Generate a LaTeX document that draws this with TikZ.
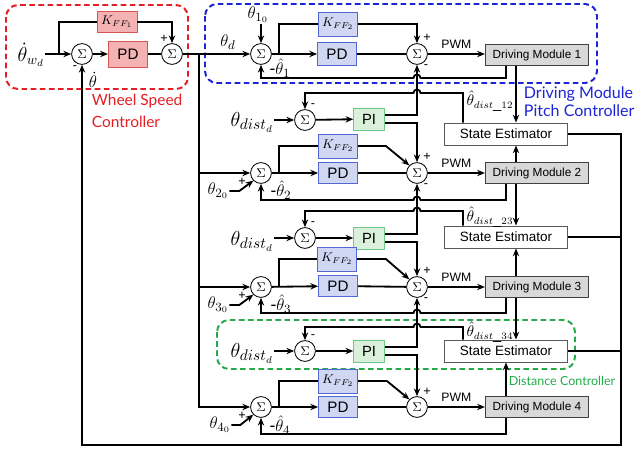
\documentclass[tikz,border=0pt]{standalone}
\usepackage{fontspec}
\setmainfont{Liberation Sans}
\newfontfamily\capfont{Lato}
\usetikzlibrary{arrows.meta,calc}

\definecolor{wsred}{RGB}{228,30,36}
\definecolor{pcblue}{RGB}{28,36,214}
\definecolor{dcgreen}{RGB}{36,170,72}
\definecolor{redfill}{RGB}{244,178,178}
\definecolor{redline}{RGB}{214,86,86}
\definecolor{bluefill}{RGB}{207,215,242}
\definecolor{blueline}{RGB}{84,104,212}
\definecolor{greenfill}{RGB}{218,240,218}
\definecolor{greenline}{RGB}{112,200,136}
\definecolor{drvfill}{RGB}{216,216,216}

\tikzset{
  sum/.style={draw, circle, line width=0.6pt, fill=white, inner sep=0pt,
    minimum size=0.52cm, font=\fontsize{9}{10}\selectfont},
  ffw/.style={draw=redline, fill=redfill, line width=0.7pt, inner sep=0pt,
    font=\fontsize{10.8}{12}\selectfont},
  ctrl/.style={draw=blueline, fill=bluefill, line width=0.7pt, inner sep=0pt,
    minimum width=0.97cm, font=\fontsize{10.8}{12}\selectfont},
  pibox/.style={draw=greenline, fill=greenfill, line width=0.7pt, inner sep=0pt,
    minimum width=0.76cm, minimum height=0.55cm, font=\fontsize{10.5}{12}\selectfont},
  drv/.style={draw=black!75, fill=drvfill, line width=0.7pt, inner sep=0pt,
    minimum width=2.58cm, minimum height=0.52cm, font=\fontsize{8.4}{10}\selectfont},
  est/.style={draw=black!65, fill=white, line width=0.7pt, inner sep=0pt,
    minimum width=3.05cm, minimum height=0.55cm, font=\fontsize{9.6}{11}\selectfont},
  sig/.style={inner sep=0pt, font=\fontsize{12.5}{14}\selectfont},
  big/.style={inner sep=0pt, font=\fontsize{15}{18}\selectfont},
  sgn/.style={inner sep=0pt, font=\fontsize{9}{10}\selectfont},
  zone/.style={dash pattern=on 4pt off 2.5pt, line width=1.4pt, rounded corners=0.3cm},
}

\begin{document}
\begin{tikzpicture}[x=0.025cm, y=-0.025cm, line width=1.3pt,
  >={Stealth[length=5.5pt,width=4.5pt]}]
  \useasboundingbox (0,0) rectangle (641,453);

  % controller zones
  \draw[zone, wsred] (6,5) rectangle (188,89);
  \draw[zone, pcblue] (205,4) rectangle (597,83);
  \draw[zone, dcgreen] (217,320) rectangle (575,369);
  \node[anchor=north west, align=left, text=wsred, inner sep=0pt,
    font=\capfont\fontsize{11}{15.6}\selectfont] (wsc) at (91,93) {Wheel Speed\\Controller};
  \node[anchor=north west, align=left, text=pcblue, inner sep=0pt,
    font=\capfont\fontsize{11.4}{12.8}\selectfont] (pcc) at (523,86) {Driving Module\\Pitch Controller};
  \node[text=dcgreen, inner sep=0pt, font=\capfont\fontsize{8.9}{10}\selectfont] (dcc) at (562,381) {Distance Controller};

  % wheel speed loop
  \node[sig, font=\fontsize{14}{16}\selectfont] (wd) at (31,55) {$\dot{\theta}_{w_d}$};
  \node[sum] (s1) at (82,54) {$\Sigma$};
  \node[ffw, minimum width=1cm, minimum height=0.52cm, font=\fontsize{9}{10}\selectfont] (kff1) at (117,22) {$K_{FF_1}$};
  \node[ffw, minimum width=0.98cm, minimum height=0.65cm] (pdw) at (128,54) {PD};
  \node[sum] (s2) at (172,54) {$\Sigma$};
  \coordinate (wb) at (59,54);
  \coordinate (vl) at (199,54);
  \draw[->] (wd.east |- s1.west) -- (s1);
  \draw (wb) |- (kff1);
  \draw[->] (kff1) -| (s2);
  \draw[->] (s1) -- (pdw);
  \draw (pdw) -- (s2);
  \node[sgn] (p0) at (164,39) {+};
  \node[sgn] (m0) at (75,68) {-};
  \node[sig] (wfb) at (93,80) {$\dot{\theta}$};

  % driving module 1
  \node[sig] (td) at (228,42) {$\theta_d$};
  \node[sum] (s3) at (261,54) {$\Sigma$};
  \node[sig] (t10) at (258,15) {$\theta_{1_0}$};
  \node[ctrl, minimum height=0.6cm, font=\fontsize{9}{10}\selectfont] (k1) at (338,24) {$K_{FF_2}$};
  \node[ctrl, minimum height=0.57cm] (pd1) at (337,54) {PD};
  \node[sum] (s4) at (417,54) {$\Sigma$};
  \node[drv] (dm1) at (537,55) {Driving Module 1};
  \coordinate (b1) at (279,54);
  \draw[->] (s2) -- (s3);
  \draw[->] (s3 |- t10.south) -- (s3);
  \draw (b1) |- (k1);
  \draw[->] (k1) -| (s4);
  \draw[->] (s3) -- (pd1);
  \draw (pd1) -- (s4);
  \draw[->] (s4) -- (s4 -| dm1.west) node[midway, above, font=\fontsize{8.7}{10}\selectfont] {PWM};
  \draw[->] ($(dm1.south)+(-31,0)$) |- (420.5,78) arc (0:180:2.5pt) -| (s3.south);
  \node[sgn] (p1) at (427,38) {+};
  \node[sgn] (m1) at (426,67) {-};
  \node[sig] (f1) at (280,68) {-$\hat{\theta}_1$};

  % distance loop 1-2
  \node[big] (dd1) at (252,122) {$\theta_{dist_d}$};
  \node[sum] (sp1) at (305,120) {$\Sigma$};
  \node[pibox] (pi1) at (369,119) {PI};
  \node[est] (se1) at (506,134) {State Estimator};
  \draw[->] (dd1.east |- sp1.west) -- (sp1);
  \draw[->] (sp1) -- (pi1);
  \draw[->] ($(pi1.east)+(0,-4)$) -| (s4.south);
  \draw[->] ($(se1.north)+(-43,0)$) |- (420.5,93) arc (0:180:2.5pt) -| (sp1.north);
  \draw[->] ($(dm1.south)+(-21,0)$) -- ($(se1.north)+(10,0)$);
  \node[sgn] (mp1) at (313,106) {-};
  \node[sig, font=\fontsize{10.5}{12}\selectfont] (h12) at (490,101) {$\hat{\theta}_{dist\_12}$};

  % driving module 2
  \node[sum] (s6) at (261,173) {$\Sigma$};
  \node[sig] (t20) at (218,191) {$\theta_{2_0}$};
  \node[ctrl, minimum height=0.6cm, font=\fontsize{9}{10}\selectfont] (k2) at (338,146) {$K_{FF_2}$};
  \node[ctrl, minimum height=0.53cm] (pd2) at (338,173) {PD};
  \node[sum] (s7) at (417,173) {$\Sigma$};
  \node[drv] (dm2) at (537,173) {Driving Module 2};
  \coordinate (b2) at (279,173);
  \draw[->] (vl) |- (s6);
  \draw[->] (t20.east) -- ++(10,0) -- (s6.south west);
  \draw (b2) |- (k2);
  \draw[->] (k2.east) -- ++(28,0) -- (s7.north west);
  \draw[->] (s6) -- (pd2);
  \draw (pd2) -- (s7);
  \draw[->] (s7) -- (s7 -| dm2.west) node[midway, above, font=\fontsize{8.7}{10}\selectfont] {PWM};
  \draw[->] ($(dm2.south)+(-31,0)$) |- (420.5,200) arc (0:180:2.5pt) -| (s6.south);
  \draw[->] ($(dm2.north)+(-21,0)$) -- ($(se1.south)+(10,0)$);
  \draw[->] ($(pi1.east)+(0,4)$) -| (s7.north);
  \node[sgn] (pt2) at (242,182) {+};
  \node[sgn] (p2) at (427,157) {+};
  \node[sgn] (m2) at (426,186) {-};
  \node[sig] (f2) at (281,190) {-$\hat{\theta}_2$};

  % distance loop 2-3
  \node[big] (dd2) at (252,241) {$\theta_{dist_d}$};
  \node[sum] (sp2) at (305,238) {$\Sigma$};
  \node[pibox] (pi2) at (369,238) {PI};
  \node[est] (se2) at (506,237) {State Estimator};
  \draw[->] (dd2.east |- sp2.west) -- (sp2);
  \draw[->] (sp2) -- (pi2);
  \draw[->] ($(pi2.east)+(0,-4)$) -| (s7.south);
  \draw[->] ($(se2.north)+(-43,0)$) |- (420.5,211) arc (0:180:2.5pt) -| (sp2.north);
  \draw[->] ($(dm2.south)+(-21,0)$) -- ($(se2.north)+(10,0)$);
  \node[sgn] (mp2) at (313,224) {-};
  \node[sig, font=\fontsize{10.5}{12}\selectfont] (h23) at (490,217) {$\hat{\theta}_{dist\_23}$};

  % driving module 3
  \node[sum] (s8) at (261,287) {$\Sigma$};
  \node[sig] (t30) at (218,305) {$\theta_{3_0}$};
  \node[ctrl, minimum height=0.6cm, font=\fontsize{9}{10}\selectfont] (k3) at (337,259) {$K_{FF_2}$};
  \node[ctrl, minimum height=0.53cm] (pd3) at (338,286) {PD};
  \node[sum] (s9) at (417,287) {$\Sigma$};
  \node[drv] (dm3) at (537,287) {Driving Module 3};
  \coordinate (b3) at (279,287);
  \draw[->] (vl) |- (s8);
  \draw[->] (t30.east) -- ++(10,0) -- (s8.south west);
  \draw (b3) |- (k3);
  \draw[->] (k3.east) -- ++(29,0) -- (s9.north west);
  \draw[->] (s8) -- (pd3);
  \draw (pd3) -- (s9);
  \draw[->] (s9) -- (s9 -| dm3.west) node[midway, above, font=\fontsize{8.7}{10}\selectfont] {PWM};
  \draw[->] ($(dm3.south)+(-31,0)$) |- (420.5,313) arc (0:180:2.5pt) -| (s8.south);
  \draw[->] ($(dm3.north)+(-21,0)$) -- ($(se2.south)+(10,0)$);
  \draw[->] ($(pi2.east)+(0,4)$) -| (s9.north);
  \node[sgn] (pt3) at (242,296) {+};
  \node[sgn] (p3) at (427,271) {+};
  \node[sgn] (m3) at (426,300) {-};
  \node[sig] (f3) at (281,304) {-$\hat{\theta}_3$};

  % distance loop 3-4
  \node[big] (dd3) at (252,353) {$\theta_{dist_d}$};
  \node[sum] (sp3) at (305,351) {$\Sigma$};
  \node[pibox] (pi3) at (369,351) {PI};
  \node[est] (se3) at (506,351) {State Estimator};
  \draw[->] (dd3.east |- sp3.west) -- (sp3);
  \draw[->] (sp3) -- (pi3);
  \draw[->] ($(pi3.east)+(0,-4)$) -| (s9.south);
  \draw[->] ($(se3.north)+(-43,0)$) |- (420.5,327) arc (0:180:2.5pt) -| (sp3.north);
  \draw[->] ($(dm3.south)+(-21,0)$) -- ($(se3.north)+(10,0)$);
  \node[sgn] (mp3) at (313,337) {-};
  \node[sig, font=\fontsize{10.5}{12}\selectfont] (h34) at (490,332) {$\hat{\theta}_{dist\_34}$};

  % driving module 4
  \node[sum] (s10) at (261,407) {$\Sigma$};
  \node[sig] (t40) at (220,425) {$\theta_{4_0}$};
  \node[ctrl, minimum height=0.6cm, font=\fontsize{9}{10}\selectfont] (k4) at (338,381) {$K_{FF_2}$};
  \node[ctrl, minimum height=0.53cm] (pd4) at (338,407) {PD};
  \node[sum] (s11) at (417,407) {$\Sigma$};
  \node[drv] (dm4) at (537,407) {Driving Module 4};
  \coordinate (b4) at (279,407);
  \draw[->] (vl) |- (s10);
  \draw[->] (t40.east) -- ++(9,0) -- (s10.south west);
  \draw (b4) |- (k4);
  \draw[->] (k4.east) -- ++(29,0) -- (s11.north west);
  \draw[->] (s10) -- (pd4);
  \draw (pd4) -- (s11);
  \draw[->] (s11) -- (s11 -| dm4.west) node[midway, above, font=\fontsize{8.7}{10}\selectfont] {PWM};
  \draw[->] ($(dm4.south)+(-31,0)$) -- ++(0,16) -| (s10.south);
  \draw[->] ($(dm4.north)+(-31,0)$) -- (se3.south);
  \draw[->] ($(pi3.east)+(0,4)$) -| (s11.north);
  \node[sgn] (pt4) at (242,416) {+};
  \node[sgn] (p4) at (427,392) {+};
  \node[sig] (f4) at (280,425) {-$\hat{\theta}_4$};

  % estimator outputs back to wheel speed loop
  \draw[->] (se1.east) -| (621,445) -| (s1.south);
  \draw (se2.east) -- (se2.east -| 621,0);
  \draw (se3.east) -- (se3.east -| 621,0);
\end{tikzpicture}
\end{document}
